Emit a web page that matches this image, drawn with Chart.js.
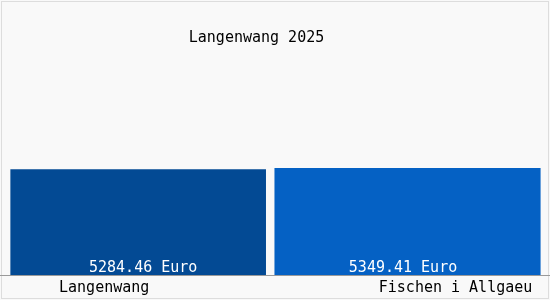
<!DOCTYPE html>
<html>
<head>
<meta charset="utf-8">
<script src="https://cdn.jsdelivr.net/npm/chart.js@4"></script>
<style>
  html, body { margin: 0; padding: 0; background: #f9f9f9; }
  #wrap { width: 550px; height: 300px; position: relative; }
</style>
</head>
<body>
<div id="wrap"><canvas id="c" width="550" height="300"></canvas></div>
<script>
const titleText = "Langenwang 2025";
const categories = ["Langenwang", "Fischen i Allgaeu"];
const values = [5284.46, 5349.41];
const valueLabels = ["5284.46 Euro", "5349.41 Euro"];
const barColors = ["#034a94", "#0561c4"];
const yMax = 12500;

const FONT = '15px "DejaVu Sans Mono", monospace';

const decor = {
  id: 'decor',
  beforeDraw(chart) {
    const ctx = chart.ctx;
    ctx.save();
    ctx.fillStyle = '#f9f9f9';
    ctx.fillRect(0, 0, chart.width, chart.height);
    ctx.strokeStyle = '#dddddd';
    ctx.lineWidth = 1;
    ctx.strokeRect(1.5, 1.5, chart.width - 3, chart.height - 3);
    ctx.restore();
  },
  afterDraw(chart) {
    const ctx = chart.ctx;
    const area = chart.chartArea;
    ctx.save();
    // axis line
    ctx.strokeStyle = '#9a9a9a';
    ctx.lineWidth = 1;
    ctx.beginPath();
    ctx.moveTo(0, Math.round(area.bottom) + 0.5);
    ctx.lineTo(chart.width, Math.round(area.bottom) + 0.5);
    ctx.stroke();

    ctx.font = FONT;
    ctx.textAlign = 'center';
    ctx.textBaseline = 'middle';
    // title
    ctx.fillStyle = '#000';
    ctx.fillText(titleText, 256.5, 38);

    const valShift = [5, -4.5];
    const catShift = [-34, 48];
    chart.data.datasets.forEach((ds, di) => {
      const meta = chart.getDatasetMeta(di);
      meta.data.forEach((bar, i) => {
        if (ds.data[i] == null) return;
        ctx.fillStyle = '#ffffff';
        ctx.fillText(valueLabels[i], bar.x + valShift[i], area.bottom - 7);
        ctx.fillStyle = '#000000';
        ctx.fillText(categories[i], bar.x + catShift[i], area.bottom + 13);
      });
    });
    ctx.restore();
  }
};

new Chart(document.getElementById('c'), {
  type: 'bar',
  data: {
    labels: categories,
    datasets: [
      { data: [values[0], null], backgroundColor: barColors[0], barPercentage: 0.949, categoryPercentage: 1, grouped: false },
      { data: [null, values[1]], backgroundColor: barColors[1], barPercentage: 0.988, categoryPercentage: 1, grouped: false }
    ]
  },
  options: {
    responsive: false,
    animation: false,
    layout: { padding: { left: 3.5, right: 7.8, top: 25, bottom: 25 } },
    plugins: { legend: { display: false }, title: { display: false }, tooltip: { enabled: false } },
    scales: {
      x: { display: false, offset: true },
      y: { display: false, min: 0, max: yMax }
    }
  },
  plugins: [decor]
});
</script>
</body>
</html>
